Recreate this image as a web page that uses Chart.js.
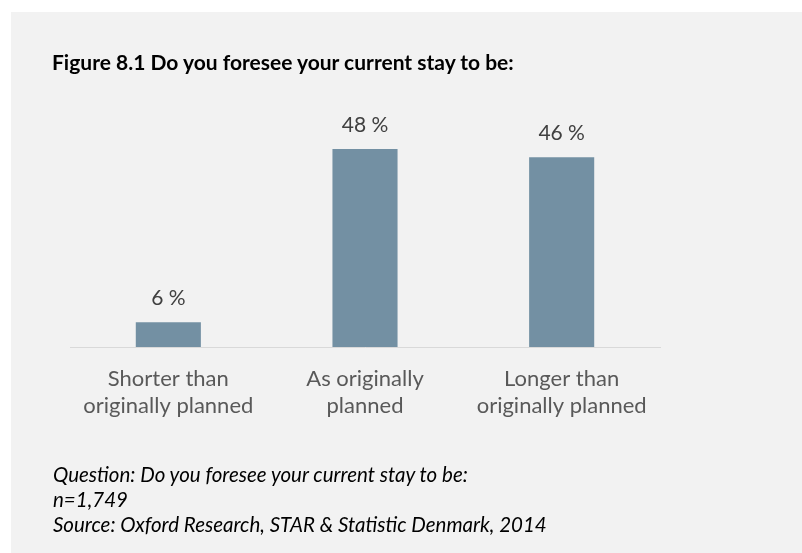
<!DOCTYPE html>
<html>
<head>
<meta charset="utf-8">
<script src="https://cdn.jsdelivr.net/npm/chart.js@4"></script>
<style>
  html, body { margin: 0; padding: 0; background: #ffffff; }
  #page { position: relative; width: 802px; height: 553px; overflow: hidden; }
  #panel { position: absolute; left: 11px; top: 12px; width: 791px; height: 541px; background: #f2f2f2; }
  #chart { position: absolute; left: 0; top: 0; }
  .title { position: absolute; left: 52px; top: 49px; font: bold 21px Lato, sans-serif; color: #000; white-space: nowrap; }
  .note { position: absolute; left: 53px; font: italic 20.5px/25px Lato, sans-serif; color: #000; white-space: nowrap; }
</style>
</head>
<body>
<div id="page">
  <div id="panel"></div>
  <canvas id="chart" width="802" height="553"></canvas>
  <div class="title">Figure 8.1 Do you foresee your current stay to be:</div>
  <div class="note" style="top:462px">Question: Do you foresee your current stay to be:</div>
  <div class="note" style="top:487px">n=1,749</div>
  <div class="note" style="top:512px">Source: Oxford Research, STAR &amp; Statistic Denmark, 2014</div>
</div>
<script>
const categories = [
    ['Shorter than', 'originally planned'],
    ['As originally', 'planned'],
    ['Longer than', 'originally planned']
];
const shares = [6, 48, 46];

// labels above each bar, "48 %"
const valueLabels = {
    id: 'valueLabels',
    afterDatasetsDraw(chart) {
        const ctx = chart.ctx;
        const meta = chart.getDatasetMeta(0);
        ctx.save();
        ctx.font = '21px Lato, sans-serif';
        ctx.fillStyle = '#404040';
        ctx.textAlign = 'center';
        ctx.textBaseline = 'alphabetic';
        meta.data.forEach(function(bar, i) {
            ctx.fillText(shares[i] + ' %', bar.x, bar.y - 17);
        });
        ctx.restore();
    }
};

let ctx = document.getElementById('chart').getContext('2d');
new Chart(ctx, {
    type: 'bar',
    data: {
        labels: categories,
        datasets: [{
            data: shares,
            backgroundColor: '#7390a3',
            borderWidth: 0,
            barPercentage: 0.331,
            categoryPercentage: 1
        }]
    },
    options: {
        responsive: false,
        animation: false,
        layout: { padding: { left: 70, right: 142, top: 120, bottom: 126 } },
        plugins: {
            legend: { display: false },
            tooltip: { enabled: false }
        },
        scales: {
            x: {
                grid: { display: false, drawTicks: false },
                border: { display: true, color: '#d9d9d9', width: 1 },
                ticks: {
                    color: '#595959',
                    padding: 19,
                    maxRotation: 0,
                    font: { family: 'Lato', size: 22, lineHeight: 1.2 }
                },
                afterFit: function(scale) { scale.height = 80; }
            },
            y: {
                display: false,
                min: 0,
                max: 55
            }
        }
    },
    plugins: [valueLabels]
});
</script>
</body>
</html>
